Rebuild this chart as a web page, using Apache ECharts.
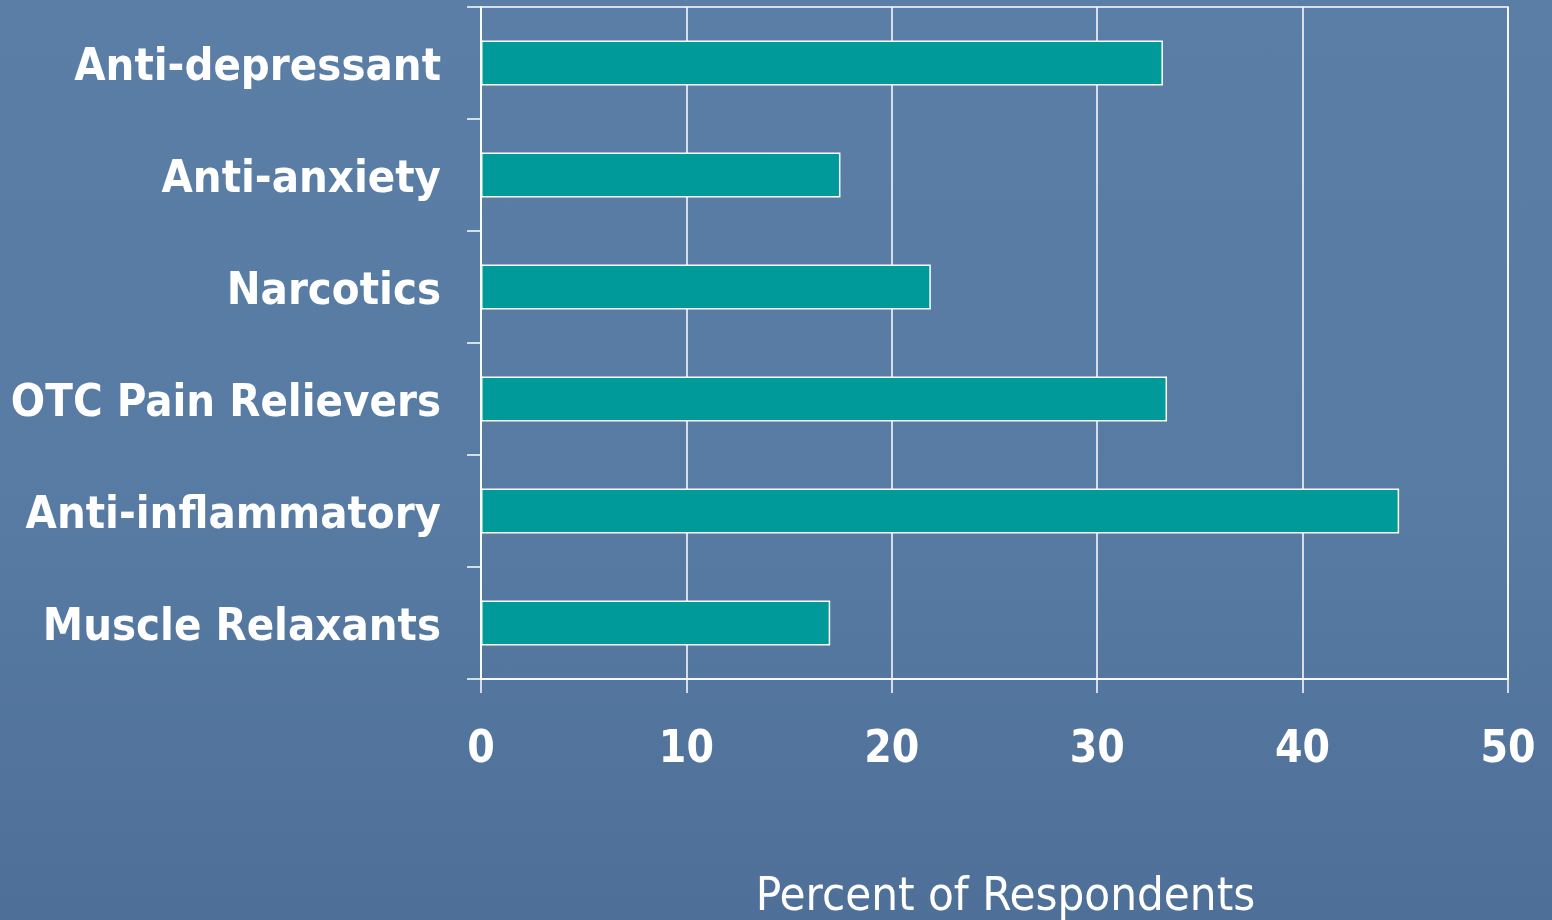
<!DOCTYPE html>
<html>
<head>
<meta charset="utf-8">
<script src="https://cdn.jsdelivr.net/npm/echarts@6/dist/echarts.min.js"></script>
<style>
  html, body { margin: 0; padding: 0; }
  body {
    width: 1552px; height: 920px; overflow: hidden;
    background: linear-gradient(180deg, #5b7ea6 0%, #587ba3 55%, #4d6f98 100%);
  }
  #chart { width: 1552px; height: 920px; }
</style>
</head>
<body>
<div id="chart"></div>
<script>
// Medication classes, listed top to bottom
const categories = [
  'Anti-depressant',
  'Anti-anxiety',
  'Narcotics',
  'OTC Pain Relievers',
  'Anti-inflammatory',
  'Muscle Relaxants'
];
// Percent of respondents per class
const percents = [33.2, 17.5, 21.9, 33.4, 44.7, 17.0];
// Value axis range
const axisMin = 0;
const axisMax = 50;
const axisStep = 10;

const labelFont = '"DejaVu Sans Condensed", "DejaVu Sans", sans-serif';
const chart = echarts.init(document.getElementById('chart'), null, { renderer: 'canvas' });

chart.setOption({
  backgroundColor: 'transparent',
  animation: false,
  grid: {
    left: 481, right: 44, top: 7, bottom: 241,
    outerBoundsMode: 'none',
    containLabel: false,
    show: true, borderColor: '#ffffff', borderWidth: 1.5,
    backgroundColor: 'transparent'
  },
  xAxis: {
    type: 'value',
    min: axisMin, max: axisMax, interval: axisStep,
    name: 'Percent of Respondents',
    nameLocation: 'middle',
    nameGap: 195,
    nameTextStyle: {
      color: '#ffffff', fontFamily: labelFont, fontSize: 47,
      fontWeight: 'normal', padding: [0, 0, 0, 22]
    },
    axisLine: { show: true, lineStyle: { color: '#ffffff', width: 1.5 } },
    axisTick: { show: true, length: 14, lineStyle: { color: '#ffffff', width: 1.5 } },
    axisLabel: {
      color: '#ffffff', fontFamily: labelFont, fontWeight: 'bold',
      fontSize: 44, margin: 50
    },
    splitLine: { show: true, lineStyle: { color: '#ffffff', width: 1.5 } }
  },
  yAxis: {
    type: 'category',
    data: categories,
    inverse: true,
    axisLine: { show: true, lineStyle: { color: '#ffffff', width: 1.5 } },
    axisTick: { show: true, length: 14, lineStyle: { color: '#ffffff', width: 1.5 } },
    axisLabel: {
      margin: 40,
      formatter: v => `{c|${v}}`,
      rich: {
        c: {
          color: '#ffffff', fontFamily: labelFont, fontWeight: 'bold',
          fontSize: 45, padding: [10, 0, 0, 0]
        }
      }
    },
    splitLine: { show: false }
  },
  series: [{
    type: 'bar',
    data: percents,
    barWidth: '40%',
    itemStyle: { color: '#009a9a', borderColor: '#ffffff', borderWidth: 1.5 }
  }]
});
</script>
</body>
</html>
